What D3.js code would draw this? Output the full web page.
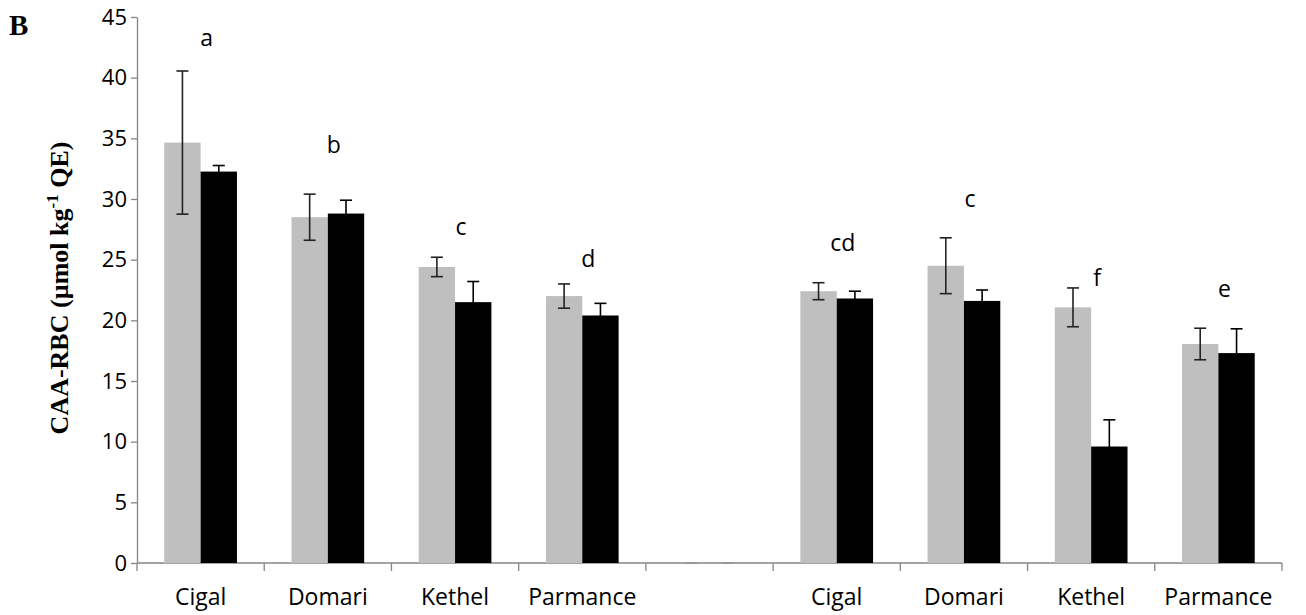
<!DOCTYPE html>
<html>
<head>
<meta charset="utf-8">
<script src="https://cdn.jsdelivr.net/npm/d3@7"></script>
<style>
body{margin:0;background:#fff;}
svg{display:block;}
</style>
</head>
<body>
<svg></svg>
<script>
var width=1306;
var height=615;

// category labels (blank one is the gap between the two groups)
var categories=['Cigal','Domari','Kethel','Parmance','','Cigal ','Domari ','Kethel ','Parmance '];
var greyValues=[34.65,28.5,24.4,22.0,0,22.4,24.5,21.07,18.05];
var greyErr=[5.9,1.9,0.8,1.0,0,0.7,2.3,1.6,1.3];
var blackValues=[32.26,28.8,21.5,20.4,0,21.8,21.6,9.6,17.3];
var blackErr=[0.5,1.1,1.7,1.0,0,0.6,0.9,2.2,2.0];
var letters=['a','b','c','d','','cd','c','f','e'];
var letterLevels=[42.6,33.8,27.0,24.4,0,25.7,29.3,22.8,21.9];
var yTicks=[0,5,10,15,20,25,30,35,40,45];

var plotLeft=137, plotRight=1282, plotTop=17, plotBottom=563;
var sans='"Open Sans", "Noto Sans", sans-serif';
var serif='"Liberation Serif", "Times New Roman", serif';

var xScale=d3.scaleBand()
	.domain(categories)
	.range([plotLeft,plotRight])
	.paddingInner(0)
	.paddingOuter(0);

var barW=xScale.bandwidth()/3.5;

var yScale=d3.scaleLinear()
	.domain([0,45])
	.range([plotBottom,plotTop]);

var svg=d3.select('svg')
	.attr('width',width)
	.attr('height',height);

// y axis
var yAxis=d3.axisLeft(yScale)
	.tickValues(yTicks)
	.tickSize(6)
	.tickPadding(4)
	.tickSizeOuter(0);

var gy=svg.append('g')
	.attr('transform','translate('+plotLeft+',0)')
	.call(yAxis);
gy.select('.domain').attr('stroke','#868686').attr('stroke-width',1.3);
gy.selectAll('.tick line').attr('stroke','#868686').attr('stroke-width',1.3);
gy.selectAll('.tick text')
	.attr('fill','#000')
	.style('font-family',sans)
	.style('font-size','22px');

// x axis: ticks on category boundaries
var gx=svg.append('g')
	.attr('transform','translate(0,'+plotBottom+')');
gx.append('line')
	.attr('x1',plotLeft).attr('x2',plotRight)
	.attr('stroke','#868686').attr('stroke-width',1.3);
gx.selectAll('line.tk')
	.data(categories)
	.enter()
	.append('line')
	.attr('class','tk')
	.attr('x1',d=>xScale(d)+xScale.bandwidth())
	.attr('x2',d=>xScale(d)+xScale.bandwidth())
	.attr('y1',0).attr('y2',8)
	.attr('stroke','#868686').attr('stroke-width',1.3);
gx.append('line')
	.attr('x1',plotLeft).attr('x2',plotLeft)
	.attr('y1',0).attr('y2',8)
	.attr('stroke','#868686').attr('stroke-width',1.3);
gx.selectAll('text')
	.data(categories)
	.enter()
	.append('text')
	.attr('x',d=>xScale(d)+xScale.bandwidth()/2)
	.attr('y',42)
	.style('text-anchor','middle')
	.style('font-family',sans)
	.style('font-size','23px')
	.text(d=>d.trim());

// bars
var idx=d3.range(categories.length);
function cx(i){return xScale(categories[i])+xScale.bandwidth()/2;}

svg.selectAll('rect.grey')
	.data(idx)
	.enter()
	.append('rect')
	.attr('class','grey')
	.attr('x',i=>cx(i)-barW)
	.attr('y',i=>yScale(greyValues[i]))
	.attr('width',barW)
	.attr('height',i=>plotBottom-yScale(greyValues[i]))
	.attr('fill','#bfbfbf');

svg.selectAll('rect.black')
	.data(idx)
	.enter()
	.append('rect')
	.attr('class','black')
	.attr('x',i=>cx(i))
	.attr('y',i=>yScale(blackValues[i]))
	.attr('width',barW)
	.attr('height',i=>plotBottom-yScale(blackValues[i]))
	.attr('fill','#000');

// error bars
function errBars(vals,errs,off,cls,col){
	var g=svg.selectAll('g.'+cls)
		.data(idx)
		.enter()
		.append('g')
		.attr('class',cls)
		.attr('stroke',i=>vals[i]===0?'#999':col)
		.attr('stroke-width',1.6);
	g.append('line')
		.attr('x1',i=>cx(i)+off).attr('x2',i=>cx(i)+off)
		.attr('y1',i=>yScale(vals[i]+errs[i]))
		.attr('y2',i=>yScale(vals[i]-errs[i]));
	g.append('line')
		.attr('x1',i=>cx(i)+off-6).attr('x2',i=>cx(i)+off+6)
		.attr('y1',i=>yScale(vals[i]+errs[i]))
		.attr('y2',i=>yScale(vals[i]+errs[i]));
	g.append('line')
		.attr('x1',i=>cx(i)+off-6).attr('x2',i=>cx(i)+off+6)
		.attr('y1',i=>yScale(vals[i]-errs[i]))
		.attr('y2',i=>yScale(vals[i]-errs[i]));
}
errBars(greyValues,greyErr,-barW/2,'eg','#222');
errBars(blackValues,blackErr,barW/2,'eb','#000');

// significance letters
svg.selectAll('text.letter')
	.data(idx.filter(i=>letters[i]!==''))
	.enter()
	.append('text')
	.attr('class','letter')
	.attr('x',i=>cx(i)+6)
	.attr('y',i=>yScale(letterLevels[i]))
	.style('text-anchor','middle')
	.style('font-family',sans)
	.style('font-size','23px')
	.text(i=>letters[i]);

// y title
var yt=svg.append('text')
	.attr('transform','rotate(-90)')
	.attr('x',-288)
	.attr('y',68)
	.style('text-anchor','middle')
	.style('font-family',serif)
	.style('font-weight','bold')
	.style('font-size','26px');
yt.append('tspan').text('CAA-RBC (µmol kg');
yt.append('tspan').attr('dy',-10).style('font-size','17px').text('-1');
yt.append('tspan').attr('dy',10).text(' QE)');

// panel letter
svg.append('text')
	.attr('x',9)
	.attr('y',35)
	.style('font-family',serif)
	.style('font-weight','bold')
	.style('font-size','29px')
	.text('B');
</script>
</body>
</html>
